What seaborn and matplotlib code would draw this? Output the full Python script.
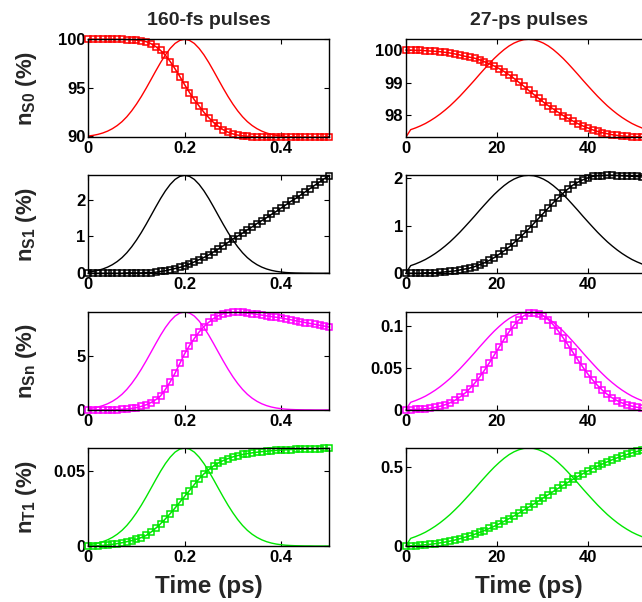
import numpy as np
import pandas as pd
import matplotlib
matplotlib.use('Agg')
import matplotlib.pyplot as plt
import seaborn as sns
from matplotlib.ticker import FuncFormatter

# time grids (ps)
t_fs = [0.00, 0.01, 0.02, 0.03, 0.04, 0.05, 0.06, 0.07, 0.08, 0.09,
        0.10, 0.11, 0.12, 0.13, 0.14, 0.15, 0.16, 0.17, 0.18, 0.19,
        0.20, 0.21, 0.22, 0.23, 0.24, 0.25, 0.26, 0.27, 0.28, 0.29,
        0.30, 0.31, 0.32, 0.33, 0.34, 0.35, 0.36, 0.37, 0.38, 0.39,
        0.40, 0.41, 0.42, 0.43, 0.44, 0.45, 0.46, 0.47, 0.48, 0.49, 0.50]
t_ps = [0.00, 1.08, 2.16, 3.24, 4.32, 5.40, 6.48, 7.56, 8.64, 9.72,
        10.80, 11.88, 12.96, 14.04, 15.12, 16.20, 17.28, 18.36, 19.44, 20.52,
        21.60, 22.68, 23.76, 24.84, 25.92, 27.00, 28.08, 29.16, 30.24, 31.32,
        32.40, 33.48, 34.56, 35.64, 36.72, 37.80, 38.88, 39.96, 41.04, 42.12,
        43.20, 44.28, 45.36, 46.44, 47.52, 48.60, 49.68, 50.76, 51.84, 52.92, 54.00]

# normalised pulse envelopes (solid lines, scaled to each panel's range)
pulse_fs = [0.013, 0.020, 0.030, 0.044, 0.063, 0.088, 0.120, 0.160, 0.210, 0.270,
            0.339, 0.416, 0.500, 0.588, 0.677, 0.763, 0.841, 0.907, 0.958, 0.989,
            1.000, 0.989, 0.958, 0.907, 0.841, 0.763, 0.677, 0.588, 0.500, 0.416,
            0.339, 0.270, 0.210, 0.160, 0.120, 0.088, 0.063, 0.044, 0.030, 0.020,
            0.013, 0.008, 0.005, 0.003, 0.002, 0.001, 0.001, 0.000, 0.000, 0.000, 0.000]
pulse_ps = [0.000, 0.078, 0.096, 0.117, 0.141, 0.170, 0.202, 0.238, 0.278, 0.321,
            0.369, 0.419, 0.473, 0.528, 0.584, 0.642, 0.698, 0.753, 0.805, 0.852,
            0.895, 0.932, 0.961, 0.982, 0.996, 1.000, 0.996, 0.982, 0.961, 0.932,
            0.895, 0.852, 0.805, 0.753, 0.698, 0.642, 0.584, 0.528, 0.473, 0.419,
            0.369, 0.321, 0.278, 0.238, 0.202, 0.170, 0.141, 0.117, 0.096, 0.078, 0.063]

# populations (%), 160-fs pulses
nS0_fs = [100.00, 100.00, 100.00, 100.00, 100.00, 100.00, 99.99, 99.99, 99.98, 99.96,
          99.92, 99.86, 99.76, 99.55, 99.25, 98.85, 98.35, 97.70, 96.95, 96.15,
          95.30, 94.50, 93.75, 93.10, 92.45, 91.90, 91.40, 91.00, 90.65, 90.40,
          90.22, 90.10, 90.02, 89.97, 89.94, 89.92, 89.90, 89.90, 89.89, 89.89,
          89.88, 89.88, 89.88, 89.88, 89.87, 89.87, 89.87, 89.87, 89.87, 89.87, 89.87]
nS1_fs = [0.00, 0.00, 0.00, 0.00, 0.00, 0.00, 0.00, 0.00, 0.01, 0.01,
          0.01, 0.01, 0.02, 0.02, 0.03, 0.05, 0.07, 0.10, 0.13, 0.16,
          0.20, 0.25, 0.31, 0.37, 0.43, 0.50, 0.58, 0.66, 0.75, 0.84,
          0.93, 1.01, 1.09, 1.18, 1.26, 1.35, 1.43, 1.51, 1.60, 1.68,
          1.77, 1.86, 1.95, 2.03, 2.12, 2.21, 2.30, 2.39, 2.48, 2.57, 2.65]
nSn_fs = [0.00, 0.00, 0.01, 0.01, 0.02, 0.03, 0.04, 0.06, 0.09, 0.14,
          0.22, 0.33, 0.48, 0.68, 0.95, 1.30, 1.90, 2.60, 3.40, 4.30,
          5.20, 5.95, 6.60, 7.20, 7.70, 8.10, 8.45, 8.70, 8.88, 8.98,
          9.02, 9.03, 9.00, 8.95, 8.89, 8.82, 8.76, 8.69, 8.62, 8.56,
          8.49, 8.41, 8.33, 8.24, 8.16, 8.07, 7.99, 7.91, 7.82, 7.74, 7.65]
nT1_fs = [0.0000, 0.0001, 0.0002, 0.0004, 0.0007, 0.0011, 0.0016, 0.0022, 0.0029, 0.0036,
          0.0045, 0.0056, 0.0070, 0.0092, 0.0118, 0.0148, 0.0180, 0.0215, 0.0252, 0.0291,
          0.0330, 0.0368, 0.0408, 0.0446, 0.0479, 0.0507, 0.0531, 0.0551, 0.0567, 0.0580,
          0.0591, 0.0600, 0.0607, 0.0613, 0.0618, 0.0622, 0.0626, 0.0629, 0.0632, 0.0634,
          0.0636, 0.0638, 0.0640, 0.0641, 0.0642, 0.0643, 0.0644, 0.0645, 0.0646, 0.0647, 0.0648]

# populations (%), 27-ps pulses
nS0_ps = [100.00, 100.00, 99.99, 99.99, 99.98, 99.97, 99.96, 99.95, 99.93, 99.91,
          99.88, 99.85, 99.81, 99.78, 99.75, 99.70, 99.64, 99.58, 99.51, 99.43,
          99.34, 99.24, 99.13, 99.01, 98.89, 98.76, 98.64, 98.52, 98.40, 98.29,
          98.19, 98.09, 97.99, 97.90, 97.82, 97.74, 97.67, 97.61, 97.55, 97.50,
          97.46, 97.43, 97.40, 97.38, 97.36, 97.35, 97.34, 97.34, 97.33, 97.33, 97.33]
nS1_ps = [0.00, 0.00, 0.00, 0.00, 0.01, 0.01, 0.01, 0.02, 0.03, 0.04,
          0.05, 0.07, 0.09, 0.11, 0.14, 0.18, 0.22, 0.27, 0.33, 0.40,
          0.47, 0.55, 0.64, 0.73, 0.83, 0.93, 1.04, 1.15, 1.26, 1.37,
          1.48, 1.58, 1.68, 1.77, 1.85, 1.91, 1.96, 2.00, 2.03, 2.045,
          2.05, 2.055, 2.055, 2.05, 2.045, 2.04, 2.035, 2.03, 2.02, 2.01, 2.00]
nSn_ps = [0.0000, 0.0004, 0.0006, 0.0010, 0.0014, 0.0021, 0.0031, 0.0044, 0.0062, 0.0085,
          0.0115, 0.0152, 0.0197, 0.0252, 0.0316, 0.0389, 0.0471, 0.0559, 0.0652, 0.0746,
          0.0839, 0.0926, 0.1004, 0.1068, 0.1117, 0.1146, 0.1155, 0.1144, 0.1116, 0.1071,
          0.1010, 0.0938, 0.0857, 0.0771, 0.0683, 0.0594, 0.0509, 0.0429, 0.0356, 0.0291,
          0.0233, 0.0185, 0.0143, 0.0110, 0.0083, 0.0061, 0.0045, 0.0032, 0.0023, 0.0016, 0.0011]
nT1_ps = [0.000, 0.001, 0.003, 0.005, 0.008, 0.011, 0.015, 0.020, 0.025, 0.031,
          0.038, 0.046, 0.055, 0.064, 0.074, 0.086, 0.098, 0.111, 0.125, 0.140,
          0.156, 0.173, 0.190, 0.208, 0.227, 0.246, 0.265, 0.285, 0.305, 0.325,
          0.345, 0.365, 0.384, 0.403, 0.422, 0.440, 0.457, 0.474, 0.490, 0.505,
          0.519, 0.533, 0.546, 0.558, 0.569, 0.579, 0.589, 0.598, 0.606, 0.613, 0.618]

titles = ['160-fs pulses', '27-ps pulses']
ylabels = [r'n$_\mathbf{S0}$ (%)', r'n$_\mathbf{S1}$ (%)', r'n$_\mathbf{Sn}$ (%)', r'n$_\mathbf{T1}$ (%)']
colors = ['#ff0000', '#000000', '#ff00ff', '#00e600']

ylim_fs = [(89.87, 100.0), (0, 2.66), (0, 9.05), (0, 0.065)]
ylim_ps = [(97.32, 100.33), (0, 2.055), (0, 0.1163), (0, 0.62)]
yticks_fs = [[90, 95, 100], [0, 1, 2], [0, 5], [0, 0.05]]
yticks_ps = [[98, 99, 100], [0, 1, 2], [0, 0.05, 0.1], [0, 0.5]]

columns = [
    dict(t=t_fs, pulse=pulse_fs, pops=[nS0_fs, nS1_fs, nSn_fs, nT1_fs],
         ylims=ylim_fs, yticks=yticks_fs, xlim=(0, 0.5), xticks=[0, 0.2, 0.4]),
    dict(t=t_ps, pulse=pulse_ps, pops=[nS0_ps, nS1_ps, nSn_ps, nT1_ps],
         ylims=ylim_ps, yticks=yticks_ps, xlim=(0, 54), xticks=[0, 20, 40]),
]

sns.set_style('ticks')
plt.rcParams['font.family'] = ['Liberation Sans', 'DejaVu Sans']
plt.rcParams['font.weight'] = 'bold'
plt.rcParams['axes.labelweight'] = 'bold'
plt.rcParams['axes.titleweight'] = 'bold'
plt.rcParams['mathtext.fontset'] = 'custom'
plt.rcParams['mathtext.bf'] = 'Liberation Sans:bold'
plt.rcParams['mathtext.rm'] = 'Liberation Sans:bold'

fig = plt.figure(figsize=(6.42, 6.02), dpi=100)
lefts = [0.1375, 0.632]
widths = [0.3754, 0.383]
bottoms = [0.7719, 0.546, 0.319, 0.093]
height = 0.1628

fmt = FuncFormatter(lambda v, p: f'{v:g}')

for j, col in enumerate(columns):
    for i in range(4):
        ax = fig.add_axes([lefts[j], bottoms[i], widths[j], height])
        lo, hi = col['ylims'][i]
        c = colors[i]
        df = pd.DataFrame({'t': col['t'],
                           'pulse': lo + (hi - lo) * np.array(col['pulse']),
                           'pop': col['pops'][i]})
        sns.lineplot(data=df, x='t', y='pulse', ax=ax, color=c, lw=1.0)
        sns.lineplot(data=df, x='t', y='pop', ax=ax, color=c, lw=1.1,
                     marker='s', markersize=5, markerfacecolor='none',
                     markeredgecolor=c, markeredgewidth=1.1, clip_on=False)
        ax.set_xlim(*col['xlim'])
        ax.set_ylim(lo, hi)
        ax.set_xticks(col['xticks'])
        ax.set_yticks(col['yticks'][i])
        ax.xaxis.set_major_formatter(fmt)
        ax.yaxis.set_major_formatter(fmt)
        ax.tick_params(direction='in', top=True, right=True, length=3.5,
                       width=0.8, labelsize=12, colors='black')
        ax.tick_params(axis='y', pad=2)
        ax.tick_params(axis='x', pad=3)
        for s in ax.spines.values():
            s.set_linewidth(1.0)
            s.set_color('black')
        ax.set_xlabel('')
        ax.set_ylabel('')
        if j == 0:
            ax.set_ylabel(ylabels[i], fontsize=16, fontweight='bold')
            ax.yaxis.set_label_coords(-0.205, 0.5)
        if i == 0:
            ax.set_title(titles[j], fontsize=14, fontweight='bold', pad=10)
        if i == 3:
            ax.set_xlabel('Time (ps)', fontsize=17.5, fontweight='bold', labelpad=7)

fig.savefig('out.png', dpi=100)
